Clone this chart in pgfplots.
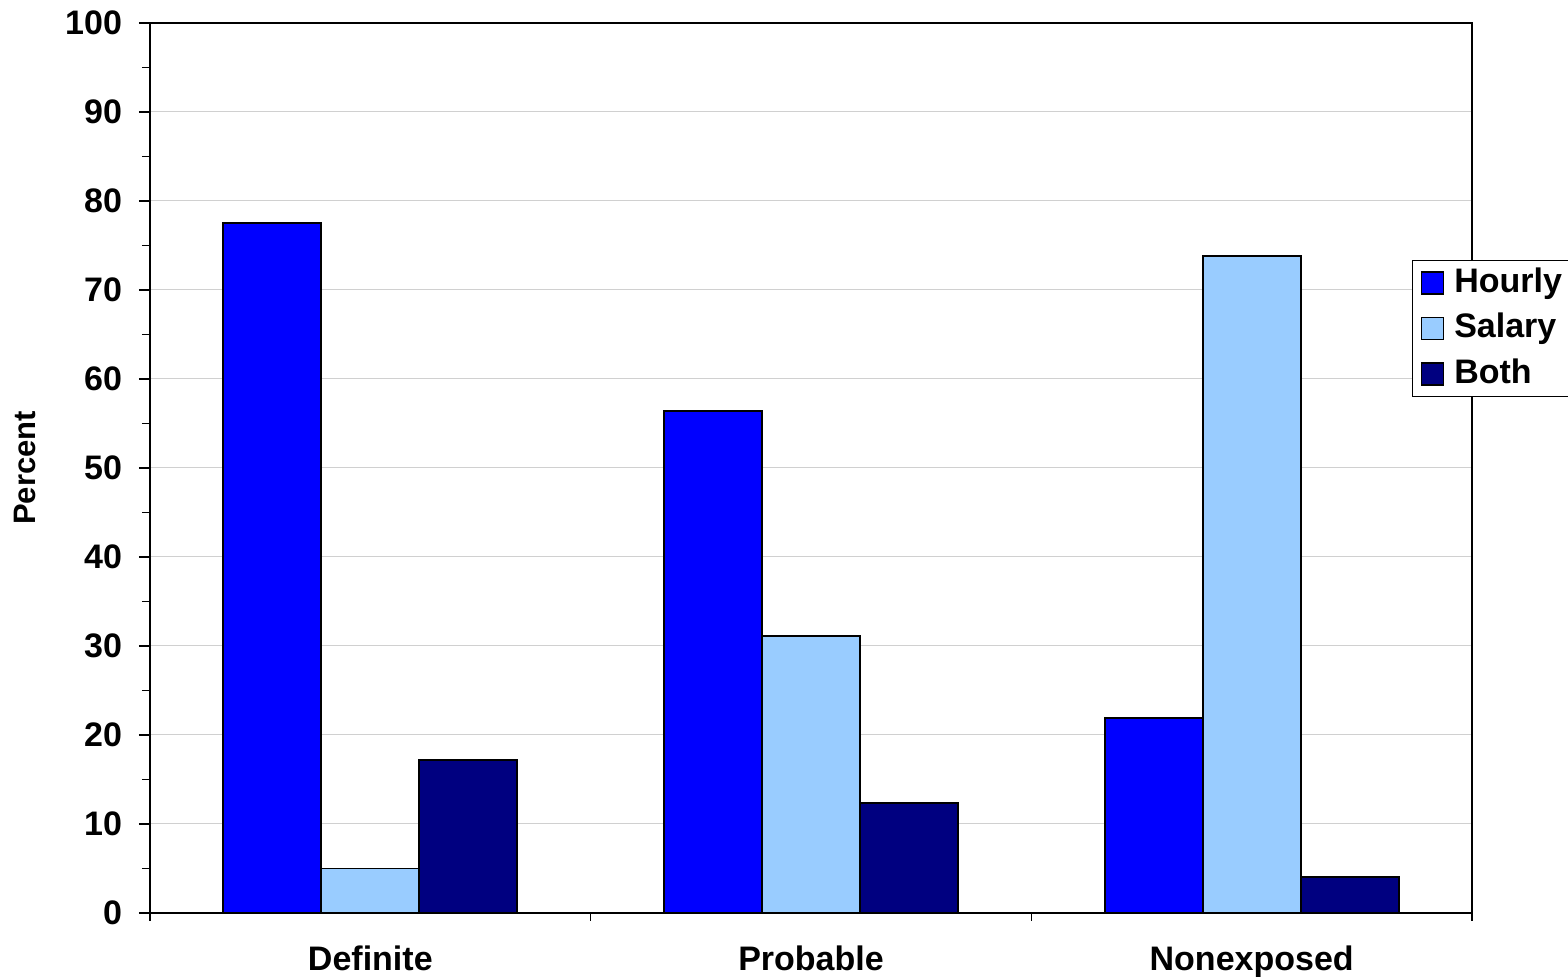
\documentclass[border=0pt]{standalone}
\usepackage{pgfplots}
\pgfplotsset{compat=1.18}
\usepackage{fontspec}
\setmainfont{Liberation Sans}

\definecolor{hourly}{HTML}{0000FF}
\definecolor{salary}{HTML}{99CCFF}
\definecolor{both}{HTML}{000080}
\definecolor{gridgray}{HTML}{D0D0D0}

\newcommand{\bigbf}{\fontsize{17}{20.4}\selectfont\bfseries}

\begin{document}
\begin{tikzpicture}
\begin{axis}[
  scale only axis, width=661pt, height=445pt,
  xmin=-0.5, xmax=2.5, ymin=0, ymax=100,
  ytick={0,10,...,100}, minor y tick num=1,
  xtick={0,1,2}, xticklabels={Definite,Probable,Nonexposed},
  minor xtick={-0.5,0.5,1.5,2.5},
  major x tick style={draw=none},
  tick align=outside, tick pos=left,
  major tick length=5.5pt, minor tick length=4pt,
  tick style={black, line width=0.6pt},
  axis line style={black, line width=1pt},
  ymajorgrids, grid style={gridgray, line width=0.5pt},
  /pgf/number format/assume math mode=true,
  tick label style={font=\bigbf},
  x tick label style={yshift=-7.5pt},
  y tick label style={xshift=-5pt},
  ylabel={Percent},
  every axis y label/.style={at={(axis description cs:0,0.5)}, xshift=-62.5pt,
    rotate=90, anchor=center, font=\fontsize{15.5}{18}\selectfont\bfseries},
  legend cell align=left,
  legend style={at={(0.9546,0.7337)}, anchor=north west, draw=black,
    line width=0.5pt, font=\bigbf, inner xsep=4pt, inner ysep=2.5pt,
    nodes={inner sep=1pt, text height=12.5pt, text depth=3pt},
    row sep=5.25pt, column sep=4pt},
  legend image code/.code={\draw[#1, line width=0.9pt] (0pt,-5.5pt) rectangle (11pt,5.5pt);},
]
\addplot[ybar, bar width=0.2224, bar shift=-0.2224, fill=hourly, draw=black, line width=0.9pt]
  coordinates {(0,77.5) (1,56.4) (2,21.9)};
\addplot[ybar, bar width=0.2224, bar shift=0, fill=salary, draw=black, line width=0.9pt]
  coordinates {(0,5.0) (1,31.1) (2,73.8)};
\addplot[ybar, bar width=0.2224, bar shift=0.2224, fill=both, draw=black, line width=0.9pt]
  coordinates {(0,17.2) (1,12.4) (2,4.0)};
\legend{Hourly,Salary,Both}
\coordinate (ll) at (rel axis cs:0,0);
\coordinate (ur) at (rel axis cs:1,1);
\end{axis}
\pgfresetboundingbox
\useasboundingbox ([shift={(-75pt,-32pt)}]ll) rectangle ([shift={(48pt,11.5pt)}]ur);
\end{tikzpicture}
\end{document}
